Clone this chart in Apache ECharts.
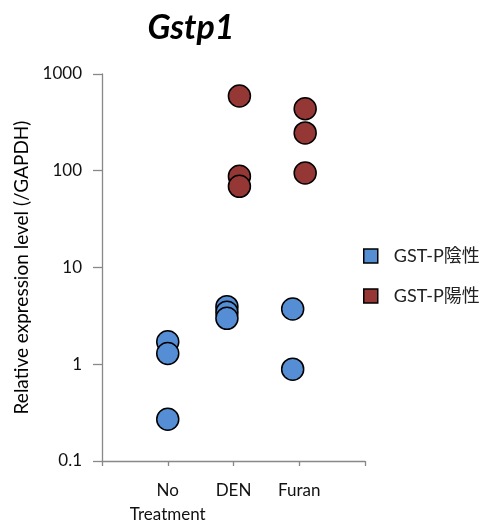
<!DOCTYPE html>
<html><head><meta charset="utf-8">
<script src="https://cdn.jsdelivr.net/npm/echarts@6/dist/echarts.min.js"></script>
<style>html,body{margin:0;padding:0;background:#fff}#c{width:482px;height:524px}</style>
</head><body><div id="c"></div>
<script>
const categories = ['No\nTreatment', 'DEN', 'Furan'];
const negName = 'GST-P陰性';
const posName = 'GST-P陽性';
// [x position (category index, 1-based), value]
const negX = [1.0, 1.0, 1.0, 1.9, 1.9, 1.9, 2.9, 2.9];
const negY = [1.71, 1.29, 0.27, 3.94, 3.44, 2.98, 3.73, 0.89];
const posX = [2.09, 2.09, 2.09, 3.09, 3.09, 3.09];
const posY = [592, 87.7, 69, 437, 246, 94.9];
const yTicks = [0.1, 1, 10, 100, 1000];

const font = 'Lato, "Noto Sans CJK JP", sans-serif';
const chart = echarts.init(document.getElementById('c'));
chart.setOption({
  animation: false,
  title: {
    text: 'Gstp1', left: 186, top: 6, textAlign: 'center',
    textStyle: {fontFamily: 'Lato, "Open Sans", sans-serif', fontStyle: 'italic', fontWeight: 'bold', fontSize: 34, color: '#000'}
  },
  legend: {
    orient: 'vertical', left: 358, top: 242, itemGap: 22,
    itemWidth: 14, itemHeight: 14,
    textStyle: {fontFamily: font, fontSize: 18, color: '#222', padding: [0,0,0,11]},
    data: [
      {name: negName, icon: 'rect', itemStyle: {color: '#558ED5', borderColor: '#000', borderWidth: 1.5}},
      {name: posName, icon: 'rect', itemStyle: {color: '#953735', borderColor: '#000', borderWidth: 1.5}}
    ]
  },
  grid: {left: 102, right: 117, top: 74, bottom: 63, outerBoundsMode: 'none', containLabel: false},
  xAxis: {
    type: 'value', min: 0, max: 4, interval: 1,
    splitLine: {show: false},
    axisLine: {lineStyle: {color: '#888', width: 1.3}},
    axisTick: {show: true, length: 5, lineStyle: {color: '#888', width: 1.3}},
    axisLabel: {
      margin: 18, fontFamily: font, fontSize: 17, color: '#111', lineHeight: 24,
      showMinLabel: true, showMaxLabel: true,
      formatter: v => (v >= 1 && v <= 3 && Number.isInteger(v)) ? categories[v - 1] : ''
    }
  },
  yAxis: {
    type: 'log', logBase: 10, min: 0.1, max: 1000,
    name: 'Relative expression level (/GAPDH)', nameLocation: 'middle', nameGap: 68,
    nameTextStyle: {fontFamily: font, fontSize: 19, color: '#000'},
    splitLine: {show: false},
    axisLine: {show: true, lineStyle: {color: '#888', width: 1.3}},
    axisTick: {show: true, length: 9, lineStyle: {color: '#888', width: 1.3}},
    axisLabel: {
      margin: 20, fontFamily: font, fontSize: 17, color: '#111',
      formatter: v => { const r = yTicks.find(t => Math.abs(t - v) / t < 1e-6); return r === undefined ? '' : String(r); }
    }
  },
  series: [
    {
      name: negName, type: 'scatter', symbol: 'circle', symbolSize: 22,
      itemStyle: {color: '#558ED5', borderColor: '#000', borderWidth: 1.5, opacity: 1},
      data: negX.map((x, i) => [x, negY[i]])
    },
    {
      name: posName, type: 'scatter', symbol: 'circle', symbolSize: 22,
      itemStyle: {color: '#953735', borderColor: '#000', borderWidth: 1.5, opacity: 1},
      data: posX.map((x, i) => [x, posY[i]])
    }
  ]
});
</script></body></html>
